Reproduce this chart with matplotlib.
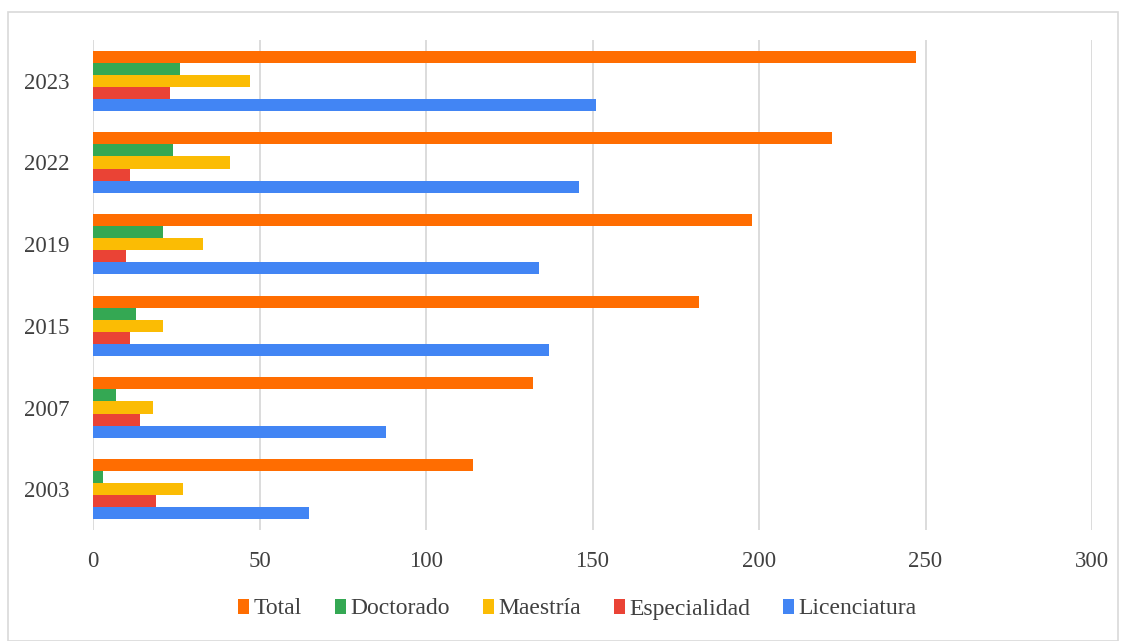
import matplotlib
matplotlib.use("Agg")
import matplotlib.pyplot as plt
from matplotlib.patches import Rectangle
import numpy as np

plt.rcParams['font.family'] = ['Liberation Serif', 'DejaVu Serif']

years = ["2003", "2007", "2015", "2019", "2022", "2023"]
licenciatura = [65, 88, 137, 134, 146, 151]
especialidad = [19, 14, 11, 10, 11, 23]
maestria = [27, 18, 21, 33, 41, 47]
doctorado = [3, 7, 13, 21, 24, 26]
total = [114, 132, 182, 198, 222, 247]

series = [
    ("Licenciatura", licenciatura, "#4285F4"),
    ("Especialidad", especialidad, "#EA4335"),
    ("Maestría", maestria, "#FBBC04"),
    ("Doctorado", doctorado, "#34A853"),
    ("Total", total, "#FF6D01"),
]

fig = plt.figure(figsize=(11.26, 6.41), dpi=100)
ax = fig.add_axes([93/1126, 1-530/641, (1092-93)/1126, (530-40)/641])

y = np.arange(len(years))
h = 0.148
for i, (name, vals, col) in enumerate(series):
    off = (i - 2) * h
    ax.barh(y + off, vals, height=h, color=col, label=name, zorder=3)

ax.set_xlim(0, 300)
ax.set_ylim(-0.5, 5.5)
ax.set_xticks(range(0, 301, 50))
ax.set_yticks(y)
ax.set_yticklabels(years)
ax.grid(axis='x', color='#d9d9d9', linewidth=1.3, zorder=0)
for s in ax.spines.values():
    s.set_visible(False)
ax.tick_params(axis='both', length=0, labelsize=16.5, colors='#404040')
ax.tick_params(axis='x', pad=15)
ax.tick_params(axis='y', pad=17)

handles, labels = ax.get_legend_handles_labels()
order = [4, 3, 2, 1, 0]
leg = fig.legend([handles[i] for i in order], [labels[i] for i in order],
                 loc='center', bbox_to_anchor=(0.513, 1-609/641), ncol=5, frameon=False,
                 fontsize=17, handlelength=0.45, handleheight=0.6, handletextpad=0.2,
                 columnspacing=1.4)
for t in leg.get_texts():
    t.set_color('#404040')

fig.patches.append(Rectangle((8/1126, 0.0), (1118-8)/1126, 1-12/641, transform=fig.transFigure,
                             fill=False, edgecolor='#d9d9d9', linewidth=1.2))

fig.savefig("out.png", dpi=100, facecolor='white')
